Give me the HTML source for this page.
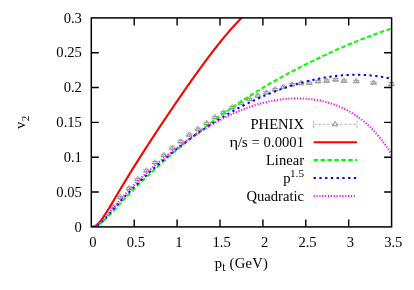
<!DOCTYPE html>
<html><head><meta charset="utf-8"><style>
html,body{margin:0;padding:0;background:#fff;}
svg{display:block;will-change:transform;transform:translateZ(0)}
text{font-family:"Liberation Serif",serif;font-size:14.6px;fill:#000}
</style></head><body>
<svg width="414" height="290" viewBox="0 0 414 290">
<rect width="414" height="290" fill="#fff"/>
<defs><clipPath id="c"><rect x="91.3" y="17.9" width="300.3" height="209.0"/></clipPath></defs>
<g stroke="#808080" stroke-width="0.6" fill="none"><path d="M112.80,205.80V207.80 M109.50,205.80h6.6 M109.50,207.80h6.6" /><path d="M112.80,203.87 L110.00,208.27 L115.60,208.27 Z" fill="none" stroke-width="0.75"/><path d="M120.60,196.37V198.37 M117.30,196.37h6.6 M117.30,198.37h6.6" /><path d="M120.60,194.44 L117.80,198.84 L123.40,198.84 Z" fill="none" stroke-width="0.75"/><path d="M129.10,187.29V189.29 M125.80,187.29h6.6 M125.80,189.29h6.6" /><path d="M129.10,185.35 L126.30,189.75 L131.90,189.75 Z" fill="none" stroke-width="0.75"/><path d="M137.70,178.33V180.33 M134.40,178.33h6.6 M134.40,180.33h6.6" /><path d="M137.70,176.40 L134.90,180.80 L140.50,180.80 Z" fill="none" stroke-width="0.75"/><path d="M146.40,169.63V171.63 M143.10,169.63h6.6 M143.10,171.63h6.6" /><path d="M146.40,167.70 L143.60,172.10 L149.20,172.10 Z" fill="none" stroke-width="0.75"/><path d="M155.10,161.47V163.47 M151.80,161.47h6.6 M151.80,163.47h6.6" /><path d="M155.10,159.53 L152.30,163.93 L157.90,163.93 Z" fill="none" stroke-width="0.75"/><path d="M163.90,154.27V156.27 M160.60,154.27h6.6 M160.60,156.27h6.6" /><path d="M163.90,152.34 L161.10,156.74 L166.70,156.74 Z" fill="none" stroke-width="0.75"/><path d="M172.40,146.94V148.94 M169.10,146.94h6.6 M169.10,148.94h6.6" /><path d="M172.40,145.01 L169.60,149.41 L175.20,149.41 Z" fill="none" stroke-width="0.75"/><path d="M180.70,140.57V142.57 M177.40,140.57h6.6 M177.40,142.57h6.6" /><path d="M180.70,138.63 L177.90,143.03 L183.50,143.03 Z" fill="none" stroke-width="0.75"/><path d="M189.40,133.86V135.86 M186.10,133.86h6.6 M186.10,135.86h6.6" /><path d="M189.40,131.92 L186.60,136.32 L192.20,136.32 Z" fill="none" stroke-width="0.75"/><path d="M197.90,128.09V130.09 M194.60,128.09h6.6 M194.60,130.09h6.6" /><path d="M197.90,126.15 L195.10,130.55 L200.70,130.55 Z" fill="none" stroke-width="0.75"/><path d="M206.70,122.18V124.18 M203.40,122.18h6.6 M203.40,124.18h6.6" /><path d="M206.70,120.24 L203.90,124.64 L209.50,124.64 Z" fill="none" stroke-width="0.75"/><path d="M215.00,116.45V118.45 M211.70,116.45h6.6 M211.70,118.45h6.6" /><path d="M215.00,114.51 L212.20,118.91 L217.80,118.91 Z" fill="none" stroke-width="0.75"/><path d="M223.60,111.49V113.49 M220.30,111.49h6.6 M220.30,113.49h6.6" /><path d="M223.60,109.55 L220.80,113.95 L226.40,113.95 Z" fill="none" stroke-width="0.75"/><path d="M232.20,106.55V108.55 M228.90,106.55h6.6 M228.90,108.55h6.6" /><path d="M232.20,104.62 L229.40,109.02 L235.00,109.02 Z" fill="none" stroke-width="0.75"/><path d="M241.00,102.29V104.29 M237.70,102.29h6.6 M237.70,104.29h6.6" /><path d="M241.00,100.36 L238.20,104.76 L243.80,104.76 Z" fill="none" stroke-width="0.75"/><path d="M249.50,98.25V100.25 M246.20,98.25h6.6 M246.20,100.25h6.6" /><path d="M249.50,96.31 L246.70,100.71 L252.30,100.71 Z" fill="none" stroke-width="0.75"/><path d="M257.90,94.86V96.86 M254.60,94.86h6.6 M254.60,96.86h6.6" /><path d="M257.90,92.92 L255.10,97.32 L260.70,97.32 Z" fill="none" stroke-width="0.75"/><path d="M266.40,91.68V93.68 M263.10,91.68h6.6 M263.10,93.68h6.6" /><path d="M266.40,89.75 L263.60,94.15 L269.20,94.15 Z" fill="none" stroke-width="0.75"/><path d="M275.10,88.53V90.53 M271.80,88.53h6.6 M271.80,90.53h6.6" /><path d="M275.10,86.59 L272.30,90.99 L277.90,90.99 Z" fill="none" stroke-width="0.75"/><path d="M283.50,85.97V87.97 M280.20,85.97h6.6 M280.20,87.97h6.6" /><path d="M283.50,84.03 L280.70,88.43 L286.30,88.43 Z" fill="none" stroke-width="0.75"/><path d="M292.00,83.60V85.60 M288.70,83.60h6.6 M288.70,85.60h6.6" /><path d="M292.00,81.67 L289.20,86.07 L294.80,86.07 Z" fill="none" stroke-width="0.75"/><path d="M300.90,82.30V84.30 M297.60,82.30h6.6 M297.60,84.30h6.6" /><path d="M300.90,80.37 L298.10,84.77 L303.70,84.77 Z" fill="none" stroke-width="0.75"/><path d="M309.30,82.10V84.10 M306.00,82.10h6.6 M306.00,84.10h6.6" /><path d="M309.30,80.17 L306.50,84.57 L312.10,84.57 Z" fill="none" stroke-width="0.75"/><path d="M318.10,80.40V82.40 M314.80,80.40h6.6 M314.80,82.40h6.6" /><path d="M318.10,78.47 L315.30,82.87 L320.90,82.87 Z" fill="none" stroke-width="0.75"/><path d="M326.60,79.90V81.90 M323.30,79.90h6.6 M323.30,81.90h6.6" /><path d="M326.60,77.97 L323.80,82.37 L329.40,82.37 Z" fill="none" stroke-width="0.75"/><path d="M335.50,78.70V80.70 M332.20,78.70h6.6 M332.20,80.70h6.6" /><path d="M335.50,76.77 L332.70,81.17 L338.30,81.17 Z" fill="none" stroke-width="0.75"/><path d="M344.00,79.90V81.90 M340.70,79.90h6.6 M340.70,81.90h6.6" /><path d="M344.00,77.97 L341.20,82.37 L346.80,82.37 Z" fill="none" stroke-width="0.75"/><path d="M356.30,80.30V82.30 M353.00,80.30h6.6 M353.00,82.30h6.6" /><path d="M356.30,78.37 L353.50,82.77 L359.10,82.77 Z" fill="none" stroke-width="0.75"/><path d="M373.60,81.80V83.80 M370.30,81.80h6.6 M370.30,83.80h6.6" /><path d="M373.60,79.87 L370.80,84.27 L376.40,84.27 Z" fill="none" stroke-width="0.75"/><path d="M391.40,82.40V85.60 M388.10,82.40h6.6 M388.10,85.60h6.6" /><path d="M391.40,81.07 L388.60,85.47 L394.20,85.47 Z" fill="none" stroke-width="0.75"/></g>
<g clip-path="url(#c)" fill="none">
<path d="M91.30,226.90 L91.93,226.89 L92.56,226.84 L93.20,226.73 L93.83,226.55 L94.46,226.31 L95.09,226.00 L95.72,225.63 L96.35,225.19 L96.99,224.69 L97.62,224.12 L98.25,223.51 L98.88,222.85 L99.51,222.13 L100.15,221.38 L100.78,220.59 L101.41,219.77 L102.04,218.92 L102.67,218.03 L103.30,217.13 L103.94,216.20 L104.57,215.25 L105.20,214.29 L105.83,213.31 L106.46,212.31 L107.10,211.31 L107.73,210.29 L108.36,209.27 L108.99,208.23 L109.62,207.19 L110.25,206.15 L110.89,205.10 L111.52,204.05 L112.15,202.99 L112.78,201.93 L113.41,200.87 L114.05,199.81 L114.68,198.75 L115.31,197.68 L115.94,196.62 L116.57,195.55 L117.21,194.49 L117.84,193.43 L118.47,192.36 L119.10,191.30 L119.73,190.24 L120.36,189.18 L121.00,188.12 L121.63,187.07 L122.26,186.01 L122.89,184.96 L123.52,183.91 L124.16,182.86 L124.79,181.82 L125.42,180.77 L126.05,179.73 L126.68,178.69 L127.31,177.65 L127.95,176.61 L128.58,175.58 L129.21,174.55 L129.84,173.52 L130.47,172.49 L131.11,171.46 L131.74,170.44 L132.37,169.42 L133.00,168.40 L133.63,167.38 L134.26,166.37 L134.90,165.35 L135.53,164.34 L136.16,163.33 L136.79,162.33 L137.42,161.32 L138.06,160.32 L138.69,159.32 L139.32,158.32 L139.95,157.32 L140.58,156.33 L141.21,155.33 L141.85,154.34 L142.48,153.35 L143.11,152.36 L143.74,151.37 L144.37,150.39 L145.01,149.41 L145.64,148.42 L146.27,147.44 L146.90,146.47 L147.53,145.49 L148.16,144.51 L148.80,143.54 L149.43,142.57 L150.06,141.59 L150.69,140.62 L151.32,139.66 L151.96,138.69 L152.59,137.72 L153.22,136.76 L153.85,135.80 L154.48,134.83 L155.12,133.87 L155.75,132.92 L156.38,131.96 L157.01,131.00 L157.64,130.05 L158.27,129.09 L158.91,128.14 L159.54,127.19 L160.17,126.23 L160.80,125.29 L161.43,124.34 L162.07,123.39 L162.70,122.44 L163.33,121.50 L163.96,120.55 L164.59,119.61 L165.22,118.67 L165.86,117.73 L166.49,116.79 L167.12,115.85 L167.75,114.91 L168.38,113.97 L169.02,113.04 L169.65,112.10 L170.28,111.17 L170.91,110.24 L171.54,109.30 L172.17,108.37 L172.81,107.44 L173.44,106.52 L174.07,105.59 L174.70,104.66 L175.33,103.74 L175.97,102.81 L176.60,101.89 L177.23,100.97 L177.86,100.05 L178.49,99.13 L179.12,98.21 L179.76,97.29 L180.39,96.37 L181.02,95.46 L181.65,94.54 L182.28,93.63 L182.92,92.72 L183.55,91.81 L184.18,90.90 L184.81,89.99 L185.44,89.08 L186.07,88.18 L186.71,87.27 L187.34,86.37 L187.97,85.47 L188.60,84.57 L189.23,83.67 L189.87,82.77 L190.50,81.87 L191.13,80.98 L191.76,80.09 L192.39,79.19 L193.03,78.30 L193.66,77.42 L194.29,76.53 L194.92,75.64 L195.55,74.76 L196.18,73.88 L196.82,73.00 L197.45,72.12 L198.08,71.24 L198.71,70.37 L199.34,69.49 L199.98,68.62 L200.61,67.75 L201.24,66.89 L201.87,66.02 L202.50,65.16 L203.13,64.30 L203.77,63.44 L204.40,62.58 L205.03,61.73 L205.66,60.87 L206.29,60.03 L206.93,59.18 L207.56,58.33 L208.19,57.49 L208.82,56.65 L209.45,55.81 L210.08,54.98 L210.72,54.14 L211.35,53.31 L211.98,52.49 L212.61,51.66 L213.24,50.84 L213.88,50.02 L214.51,49.21 L215.14,48.40 L215.77,47.59 L216.40,46.78 L217.03,45.98 L217.67,45.18 L218.30,44.38 L218.93,43.59 L219.56,42.80 L220.19,42.01 L220.83,41.23 L221.46,40.45 L222.09,39.68 L222.72,38.90 L223.35,38.14 L223.98,37.37 L224.62,36.61 L225.25,35.86 L225.88,35.11 L226.51,34.36 L227.14,33.61 L227.78,32.88 L228.41,32.14 L229.04,31.41 L229.67,30.68 L230.30,29.96 L230.94,29.25 L231.57,28.53 L232.20,27.83 L232.83,27.13 L233.46,26.43 L234.09,25.74 L234.73,25.05 L235.36,24.37 L235.99,23.69 L236.62,23.02 L237.25,22.36 L237.89,21.70 L238.52,21.04 L239.15,20.39 L239.78,19.75 L240.41,19.11 L241.04,18.48 L241.68,17.86 L242.31,17.24" stroke="#ff0000" stroke-width="2.1"/>
<path d="M91.30,226.90 L92.56,226.86 L93.81,226.71 L95.07,226.39 L96.33,225.92 L97.58,225.30 L98.84,224.55 L100.10,223.68 L101.35,222.70 L102.61,221.65 L103.86,220.52 L105.12,219.34 L106.38,218.11 L107.63,216.85 L108.89,215.56 L110.15,214.25 L111.40,212.92 L112.66,211.59 L113.92,210.24 L115.17,208.89 L116.43,207.54 L117.69,206.19 L118.94,204.85 L120.20,203.50 L121.46,202.16 L122.71,200.83 L123.97,199.50 L125.23,198.18 L126.48,196.86 L127.74,195.55 L128.99,194.25 L130.25,192.96 L131.51,191.67 L132.76,190.39 L134.02,189.12 L135.28,187.86 L136.53,186.61 L137.79,185.36 L139.05,184.12 L140.30,182.89 L141.56,181.66 L142.82,180.44 L144.07,179.23 L145.33,178.03 L146.59,176.83 L147.84,175.64 L149.10,174.46 L150.35,173.28 L151.61,172.11 L152.87,170.95 L154.12,169.79 L155.38,168.64 L156.64,167.49 L157.89,166.35 L159.15,165.22 L160.41,164.09 L161.66,162.97 L162.92,161.85 L164.18,160.74 L165.43,159.63 L166.69,158.53 L167.95,157.44 L169.20,156.34 L170.46,155.26 L171.72,154.18 L172.97,153.10 L174.23,152.03 L175.48,150.96 L176.74,149.90 L178.00,148.84 L179.25,147.79 L180.51,146.74 L181.77,145.70 L183.02,144.66 L184.28,143.63 L185.54,142.60 L186.79,141.58 L188.05,140.55 L189.31,139.54 L190.56,138.53 L191.82,137.52 L193.08,136.52 L194.33,135.52 L195.59,134.53 L196.84,133.54 L198.10,132.55 L199.36,131.57 L200.61,130.59 L201.87,129.62 L203.13,128.66 L204.38,127.69 L205.64,126.73 L206.90,125.78 L208.15,124.83 L209.41,123.88 L210.67,122.94 L211.92,122.01 L213.18,121.07 L214.44,120.15 L215.69,119.22 L216.95,118.30 L218.21,117.39 L219.46,116.48 L220.72,115.57 L221.97,114.67 L223.23,113.77 L224.49,112.88 L225.74,111.99 L227.00,111.11 L228.26,110.23 L229.51,109.36 L230.77,108.49 L232.03,107.62 L233.28,106.76 L234.54,105.90 L235.80,105.05 L237.05,104.20 L238.31,103.36 L239.57,102.52 L240.82,101.69 L242.08,100.86 L243.33,100.03 L244.59,99.21 L245.85,98.39 L247.10,97.58 L248.36,96.78 L249.62,95.97 L250.87,95.17 L252.13,94.38 L253.39,93.59 L254.64,92.80 L255.90,92.02 L257.16,91.25 L258.41,90.48 L259.67,89.71 L260.93,88.94 L262.18,88.18 L263.44,87.43 L264.69,86.68 L265.95,85.93 L267.21,85.19 L268.46,84.45 L269.72,83.72 L270.98,82.99 L272.23,82.26 L273.49,81.54 L274.75,80.82 L276.00,80.11 L277.26,79.40 L278.52,78.70 L279.77,78.00 L281.03,77.30 L282.29,76.60 L283.54,75.91 L284.80,75.23 L286.06,74.55 L287.31,73.87 L288.57,73.19 L289.82,72.52 L291.08,71.86 L292.34,71.19 L293.59,70.53 L294.85,69.88 L296.11,69.22 L297.36,68.57 L298.62,67.93 L299.88,67.28 L301.13,66.64 L302.39,66.01 L303.65,65.38 L304.90,64.75 L306.16,64.12 L307.42,63.50 L308.67,62.88 L309.93,62.26 L311.18,61.64 L312.44,61.03 L313.70,60.42 L314.95,59.82 L316.21,59.22 L317.47,58.62 L318.72,58.02 L319.98,57.43 L321.24,56.84 L322.49,56.25 L323.75,55.66 L325.01,55.08 L326.26,54.50 L327.52,53.92 L328.78,53.35 L330.03,52.78 L331.29,52.21 L332.55,51.64 L333.80,51.08 L335.06,50.52 L336.31,49.96 L337.57,49.40 L338.83,48.85 L340.08,48.30 L341.34,47.75 L342.60,47.20 L343.85,46.66 L345.11,46.12 L346.37,45.58 L347.62,45.05 L348.88,44.52 L350.14,43.99 L351.39,43.46 L352.65,42.94 L353.91,42.42 L355.16,41.90 L356.42,41.39 L357.67,40.87 L358.93,40.37 L360.19,39.86 L361.44,39.36 L362.70,38.86 L363.96,38.37 L365.21,37.88 L366.47,37.39 L367.73,36.91 L368.98,36.43 L370.24,35.95 L371.50,35.48 L372.75,35.02 L374.01,34.55 L375.27,34.10 L376.52,33.64 L377.78,33.20 L379.04,32.75 L380.29,32.32 L381.55,31.89 L382.80,31.46 L384.06,31.04 L385.32,30.63 L386.57,30.22 L387.83,29.82 L389.09,29.42 L390.34,29.04 L391.60,28.66" stroke="#00ff00" stroke-width="2" stroke-dasharray="4.6 2.3"/>
<path d="M91.30,226.90 L92.56,226.89 L93.81,226.79 L95.07,226.54 L96.33,226.10 L97.58,225.46 L98.84,224.63 L100.10,223.64 L101.35,222.51 L102.61,221.28 L103.86,219.97 L105.12,218.60 L106.38,217.20 L107.63,215.77 L108.89,214.33 L110.15,212.89 L111.40,211.44 L112.66,210.00 L113.92,208.57 L115.17,207.15 L116.43,205.73 L117.69,204.33 L118.94,202.94 L120.20,201.56 L121.46,200.19 L122.71,198.83 L123.97,197.49 L125.23,196.15 L126.48,194.83 L127.74,193.52 L128.99,192.22 L130.25,190.93 L131.51,189.65 L132.76,188.38 L134.02,187.12 L135.28,185.87 L136.53,184.63 L137.79,183.39 L139.05,182.17 L140.30,180.95 L141.56,179.75 L142.82,178.55 L144.07,177.36 L145.33,176.18 L146.59,175.01 L147.84,173.84 L149.10,172.68 L150.35,171.53 L151.61,170.39 L152.87,169.26 L154.12,168.13 L155.38,167.01 L156.64,165.90 L157.89,164.79 L159.15,163.70 L160.41,162.61 L161.66,161.52 L162.92,160.45 L164.18,159.38 L165.43,158.32 L166.69,157.26 L167.95,156.21 L169.20,155.17 L170.46,154.14 L171.72,153.11 L172.97,152.09 L174.23,151.08 L175.48,150.07 L176.74,149.07 L178.00,148.08 L179.25,147.09 L180.51,146.11 L181.77,145.14 L183.02,144.18 L184.28,143.22 L185.54,142.26 L186.79,141.32 L188.05,140.38 L189.31,139.45 L190.56,138.52 L191.82,137.60 L193.08,136.69 L194.33,135.78 L195.59,134.89 L196.84,133.99 L198.10,133.11 L199.36,132.23 L200.61,131.36 L201.87,130.49 L203.13,129.63 L204.38,128.78 L205.64,127.93 L206.90,127.09 L208.15,126.26 L209.41,125.43 L210.67,124.61 L211.92,123.80 L213.18,122.99 L214.44,122.19 L215.69,121.40 L216.95,120.61 L218.21,119.83 L219.46,119.06 L220.72,118.29 L221.97,117.53 L223.23,116.78 L224.49,116.03 L225.74,115.29 L227.00,114.55 L228.26,113.83 L229.51,113.10 L230.77,112.39 L232.03,111.68 L233.28,110.98 L234.54,110.28 L235.80,109.60 L237.05,108.91 L238.31,108.24 L239.57,107.57 L240.82,106.91 L242.08,106.25 L243.33,105.60 L244.59,104.96 L245.85,104.32 L247.10,103.69 L248.36,103.07 L249.62,102.45 L250.87,101.84 L252.13,101.24 L253.39,100.64 L254.64,100.05 L255.90,99.46 L257.16,98.88 L258.41,98.31 L259.67,97.75 L260.93,97.19 L262.18,96.64 L263.44,96.09 L264.69,95.55 L265.95,95.02 L267.21,94.49 L268.46,93.97 L269.72,93.46 L270.98,92.96 L272.23,92.46 L273.49,91.96 L274.75,91.48 L276.00,91.00 L277.26,90.52 L278.52,90.05 L279.77,89.59 L281.03,89.14 L282.29,88.69 L283.54,88.25 L284.80,87.82 L286.06,87.39 L287.31,86.97 L288.57,86.56 L289.82,86.15 L291.08,85.75 L292.34,85.35 L293.59,84.96 L294.85,84.58 L296.11,84.21 L297.36,83.84 L298.62,83.48 L299.88,83.13 L301.13,82.78 L302.39,82.44 L303.65,82.11 L304.90,81.78 L306.16,81.46 L307.42,81.15 L308.67,80.84 L309.93,80.54 L311.18,80.25 L312.44,79.97 L313.70,79.69 L314.95,79.42 L316.21,79.16 L317.47,78.90 L318.72,78.65 L319.98,78.41 L321.24,78.18 L322.49,77.95 L323.75,77.73 L325.01,77.52 L326.26,77.31 L327.52,77.12 L328.78,76.93 L330.03,76.75 L331.29,76.57 L332.55,76.41 L333.80,76.25 L335.06,76.10 L336.31,75.96 L337.57,75.82 L338.83,75.69 L340.08,75.58 L341.34,75.47 L342.60,75.36 L343.85,75.27 L345.11,75.19 L346.37,75.11 L347.62,75.04 L348.88,74.98 L350.14,74.93 L351.39,74.89 L352.65,74.86 L353.91,74.84 L355.16,74.82 L356.42,74.82 L357.67,74.82 L358.93,74.83 L360.19,74.86 L361.44,74.89 L362.70,74.93 L363.96,74.99 L365.21,75.05 L366.47,75.12 L367.73,75.21 L368.98,75.30 L370.24,75.40 L371.50,75.52 L372.75,75.64 L374.01,75.78 L375.27,75.93 L376.52,76.09 L377.78,76.26 L379.04,76.44 L380.29,76.63 L381.55,76.84 L382.80,77.06 L384.06,77.29 L385.32,77.53 L386.57,77.78 L387.83,78.05 L389.09,78.33 L390.34,78.62 L391.60,78.93" stroke="#0000ff" stroke-width="2" stroke-dasharray="2.3 3.45"/>
<path d="M91.30,226.90 L92.56,226.85 L93.81,226.66 L95.07,226.27 L96.33,225.68 L97.58,224.92 L98.84,224.00 L100.10,222.94 L101.35,221.77 L102.61,220.51 L103.86,219.17 L105.12,217.78 L106.38,216.35 L107.63,214.88 L108.89,213.40 L110.15,211.90 L111.40,210.39 L112.66,208.89 L113.92,207.38 L115.17,205.88 L116.43,204.39 L117.69,202.92 L118.94,201.45 L120.20,200.00 L121.46,198.56 L122.71,197.13 L123.97,195.73 L125.23,194.33 L126.48,192.96 L127.74,191.60 L128.99,190.25 L130.25,188.92 L131.51,187.61 L132.76,186.31 L134.02,185.02 L135.28,183.75 L136.53,182.50 L137.79,181.25 L139.05,180.02 L140.30,178.81 L141.56,177.61 L142.82,176.41 L144.07,175.24 L145.33,174.07 L146.59,172.91 L147.84,171.77 L149.10,170.64 L150.35,169.51 L151.61,168.40 L152.87,167.30 L154.12,166.20 L155.38,165.12 L156.64,164.05 L157.89,162.98 L159.15,161.93 L160.41,160.88 L161.66,159.84 L162.92,158.81 L164.18,157.79 L165.43,156.77 L166.69,155.77 L167.95,154.77 L169.20,153.78 L170.46,152.79 L171.72,151.82 L172.97,150.85 L174.23,149.89 L175.48,148.94 L176.74,147.99 L178.00,147.05 L179.25,146.12 L180.51,145.20 L181.77,144.28 L183.02,143.38 L184.28,142.47 L185.54,141.58 L186.79,140.69 L188.05,139.81 L189.31,138.94 L190.56,138.08 L191.82,137.22 L193.08,136.37 L194.33,135.52 L195.59,134.69 L196.84,133.86 L198.10,133.04 L199.36,132.23 L200.61,131.42 L201.87,130.63 L203.13,129.84 L204.38,129.06 L205.64,128.29 L206.90,127.52 L208.15,126.76 L209.41,126.02 L210.67,125.28 L211.92,124.54 L213.18,123.82 L214.44,123.11 L215.69,122.40 L216.95,121.70 L218.21,121.02 L219.46,120.34 L220.72,119.67 L221.97,119.00 L223.23,118.35 L224.49,117.71 L225.74,117.07 L227.00,116.45 L228.26,115.84 L229.51,115.23 L230.77,114.63 L232.03,114.05 L233.28,113.47 L234.54,112.91 L235.80,112.35 L237.05,111.80 L238.31,111.27 L239.57,110.74 L240.82,110.22 L242.08,109.72 L243.33,109.22 L244.59,108.74 L245.85,108.26 L247.10,107.80 L248.36,107.34 L249.62,106.90 L250.87,106.47 L252.13,106.04 L253.39,105.63 L254.64,105.23 L255.90,104.84 L257.16,104.46 L258.41,104.10 L259.67,103.74 L260.93,103.40 L262.18,103.06 L263.44,102.74 L264.69,102.43 L265.95,102.13 L267.21,101.84 L268.46,101.56 L269.72,101.29 L270.98,101.04 L272.23,100.79 L273.49,100.56 L274.75,100.34 L276.00,100.13 L277.26,99.93 L278.52,99.75 L279.77,99.57 L281.03,99.41 L282.29,99.26 L283.54,99.12 L284.80,99.00 L286.06,98.88 L287.31,98.78 L288.57,98.69 L289.82,98.61 L291.08,98.55 L292.34,98.49 L293.59,98.45 L294.85,98.42 L296.11,98.41 L297.36,98.40 L298.62,98.41 L299.88,98.44 L301.13,98.47 L302.39,98.52 L303.65,98.58 L304.90,98.66 L306.16,98.74 L307.42,98.85 L308.67,98.96 L309.93,99.09 L311.18,99.23 L312.44,99.39 L313.70,99.56 L314.95,99.75 L316.21,99.95 L317.47,100.16 L318.72,100.39 L319.98,100.64 L321.24,100.90 L322.49,101.17 L323.75,101.47 L325.01,101.78 L326.26,102.10 L327.52,102.44 L328.78,102.80 L330.03,103.18 L331.29,103.57 L332.55,103.98 L333.80,104.42 L335.06,104.86 L336.31,105.33 L337.57,105.82 L338.83,106.33 L340.08,106.86 L341.34,107.41 L342.60,107.98 L343.85,108.57 L345.11,109.18 L346.37,109.82 L347.62,110.48 L348.88,111.17 L350.14,111.88 L351.39,112.61 L352.65,113.37 L353.91,114.16 L355.16,114.97 L356.42,115.81 L357.67,116.68 L358.93,117.58 L360.19,118.51 L361.44,119.47 L362.70,120.46 L363.96,121.49 L365.21,122.55 L366.47,123.64 L367.73,124.77 L368.98,125.93 L370.24,127.13 L371.50,128.37 L372.75,129.65 L374.01,130.97 L375.27,132.34 L376.52,133.74 L377.78,135.19 L379.04,136.69 L380.29,138.23 L381.55,139.82 L382.80,141.45 L384.06,143.14 L385.32,144.88 L386.57,146.68 L387.83,148.53 L389.09,150.44 L390.34,152.40 L391.60,154.43" stroke="#ff00ff" stroke-width="2.1" stroke-dasharray="1.15 1.72"/>
</g>
<path d="M134.20,226.9v-7.5 M134.20,17.9v7.5 M177.10,226.9v-7.5 M177.10,17.9v7.5 M220.00,226.9v-7.5 M220.00,17.9v7.5 M262.90,226.9v-7.5 M262.90,17.9v7.5 M305.80,226.9v-7.5 M305.80,17.9v7.5 M348.70,226.9v-7.5 M348.70,17.9v7.5 M91.3,192.07h7.5 M391.6,192.07h-7.5 M91.3,157.23h7.5 M391.6,157.23h-7.5 M91.3,122.40h7.5 M391.6,122.40h-7.5 M91.3,87.57h7.5 M391.6,87.57h-7.5 M91.3,52.73h7.5 M391.6,52.73h-7.5 " stroke="#000" stroke-width="1.4" fill="none"/>
<rect x="91.3" y="17.9" width="300.3" height="209.0" fill="none" stroke="#000" stroke-width="1.5"/>
<text x="93.00" y="246.9" text-anchor="middle">0</text><text x="135.90" y="246.9" text-anchor="middle">0.5</text><text x="178.80" y="246.9" text-anchor="middle">1</text><text x="221.70" y="246.9" text-anchor="middle">1.5</text><text x="264.60" y="246.9" text-anchor="middle">2</text><text x="307.50" y="246.9" text-anchor="middle">2.5</text><text x="350.40" y="246.9" text-anchor="middle">3</text><text x="393.30" y="246.9" text-anchor="middle">3.5</text><text x="81.9" y="231.50" text-anchor="end">0</text><text x="81.9" y="196.67" text-anchor="end">0.05</text><text x="81.9" y="161.83" text-anchor="end">0.1</text><text x="81.9" y="127.00" text-anchor="end">0.15</text><text x="81.9" y="92.17" text-anchor="end">0.2</text><text x="81.9" y="57.33" text-anchor="end">0.25</text><text x="81.9" y="22.50" text-anchor="end">0.3</text>
<text x="304" y="129.3" text-anchor="end">PHENIX</text>
<text x="229.6" y="147.2" textLength="8.6" lengthAdjust="spacingAndGlyphs">η</text><text x="304" y="147.2" text-anchor="end" textLength="66.0" lengthAdjust="spacing">/s = 0.0001</text>
<text x="304" y="165.2" text-anchor="end">Linear</text>
<text x="290.6" y="183.1" text-anchor="end">p</text>
<text x="304" y="177.2" text-anchor="end" style="font-size:11.2px">1.5</text>
<text x="304" y="201.1" text-anchor="end">Quadratic</text>
<g fill="none">
<path d="M313.6,124.3H357.0 M313.6,120.7v7.2 M357.0,120.7v7.2" stroke="#808080" stroke-width="0.6" stroke-dasharray="2.8 1.6"/>
<path d="M335.00,121.47 L332.20,125.87 L337.80,125.87 Z" stroke="#808080" stroke-width="0.9" fill="none"/>
<path d="M313.6,142.2H357.0" stroke="#ff0000" stroke-width="2.1"/>
<path d="M313.6,160.1H357.0" stroke="#00ff00" stroke-width="2" stroke-dasharray="4.6 2.3"/>
<path d="M313.6,178.1H357.0" stroke="#0000ff" stroke-width="2" stroke-dasharray="2.3 3.45"/>
<path d="M313.6,196.1H354.8" stroke="#ff00ff" stroke-width="2.1" stroke-dasharray="1.15 1.72"/>
</g>
<text x="214.7" y="268.2">p</text>
<text x="222.3" y="271.2" style="font-size:11.6px">t</text>
<text x="229.6" y="268.2" textLength="38.2" lengthAdjust="spacing">(GeV)</text>
<g transform="translate(24.9,128.9) rotate(-90)"><text x="0" y="0">v</text><text x="7.6" y="4.4" style="font-size:11.2px">2</text></g>
</svg>
</body></html>
